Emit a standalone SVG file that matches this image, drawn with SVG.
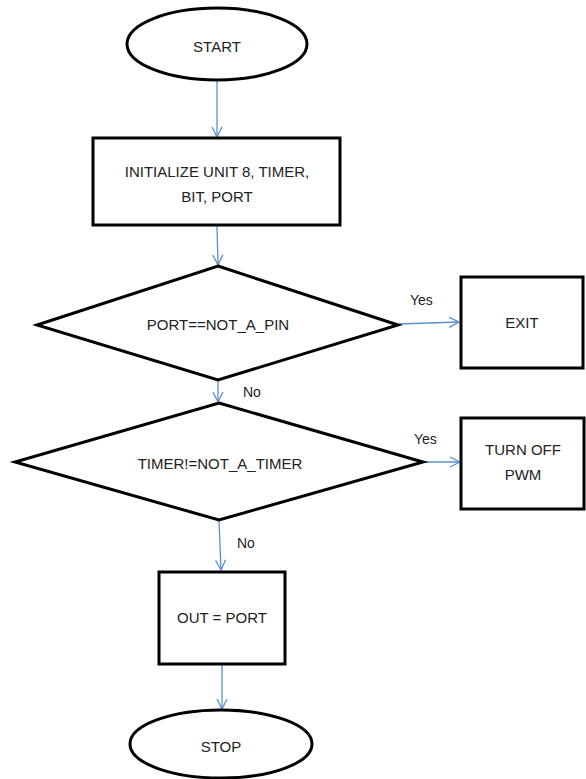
<svg xmlns="http://www.w3.org/2000/svg" width="586" height="779" viewBox="0 0 586 779">
<defs>
<style>
.shape{fill:#fff;stroke:#000;stroke-width:3}
.conn{fill:none;stroke:#5b8fd0;stroke-width:1.3}
.t{font-family:"Liberation Sans",Arial,sans-serif;font-size:15px;fill:#222;text-anchor:middle}
.lbl{font-family:"Liberation Sans",Arial,sans-serif;font-size:14px;fill:#222}
</style>
<marker id="arr" viewBox="0 0 12 12" refX="11" refY="6" markerWidth="12" markerHeight="12" markerUnits="userSpaceOnUse" orient="auto">
<path d="M1,1 L11,6 L1,11" fill="none" stroke="#5b8fd0" stroke-width="1.3"/>
</marker>
</defs>
<rect width="586" height="779" fill="#fff"/>
<g id="connectors">
<line class="conn" x1="217" y1="80" x2="217" y2="137" marker-end="url(#arr)"/>
<line class="conn" x1="217" y1="226" x2="218" y2="265" marker-end="url(#arr)"/>
<line class="conn" x1="399" y1="324" x2="459" y2="322" marker-end="url(#arr)"/>
<line class="conn" x1="218" y1="381" x2="218" y2="402" marker-end="url(#arr)"/>
<line class="conn" x1="424" y1="462" x2="460" y2="462" marker-end="url(#arr)"/>
<line class="conn" x1="219" y1="521" x2="221" y2="570" marker-end="url(#arr)"/>
<line class="conn" x1="222" y1="665" x2="222" y2="709" marker-end="url(#arr)"/>
<text class="lbl" x="410" y="305">Yes</text>
<text class="lbl" x="243" y="397">No</text>
<text class="lbl" x="414" y="444">Yes</text>
<text class="lbl" x="237" y="548">No</text>
</g>
<g id="start">
<ellipse class="shape" cx="217" cy="44" rx="90" ry="36"/>
<text class="t" x="217" y="52">START</text>
</g>
<g id="init">
<rect class="shape" x="93" y="138" width="247" height="87"/>
<text class="t" x="217" y="177">INITIALIZE UNIT 8, TIMER,</text>
<text class="t" x="217" y="202">BIT, PORT</text>
</g>
<g id="dec1">
<polygon class="shape" points="218,266 398,325 218,380 37,325"/>
<text class="t" x="218" y="330">PORT==NOT_A_PIN</text>
</g>
<g id="exit">
<rect class="shape" x="461" y="277" width="122" height="91"/>
<text class="t" x="522" y="328">EXIT</text>
</g>
<g id="dec2">
<polygon class="shape" points="219,403 423,462 219,520 15,462"/>
<text class="t" x="220" y="469">TIMER!=NOT_A_TIMER</text>
</g>
<g id="pwm">
<rect class="shape" x="461" y="418" width="123" height="91"/>
<text class="t" x="523" y="455">TURN OFF</text>
<text class="t" x="523" y="480">PWM</text>
</g>
<g id="out">
<rect class="shape" x="159" y="572" width="126" height="92"/>
<text class="t" x="222" y="623">OUT = PORT</text>
</g>
<g id="stop">
<ellipse class="shape" cx="221" cy="744" rx="91" ry="34"/>
<text class="t" x="221" y="752">STOP</text>
</g>
</svg>
